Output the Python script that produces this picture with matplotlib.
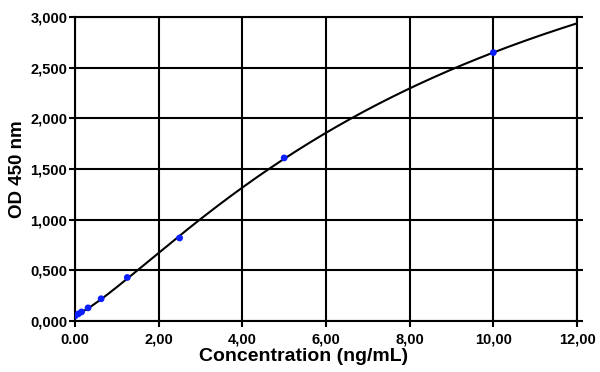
import matplotlib
matplotlib.use("Agg")
import matplotlib.pyplot as plt
import numpy as np

# standard points
conc = [0.0, 0.078, 0.156, 0.3125, 0.625, 1.25, 2.5, 5.0, 10.0]
od = [0.05, 0.07, 0.09, 0.13, 0.22, 0.43, 0.82, 1.61, 2.65]

x_ticks = [0, 2, 4, 6, 8, 10, 12]
x_tick_labels = ["0.00", "2,00", "4,00", "6,00", "8,00", "10,00", "12,00"]
y_ticks = [0.0, 0.5, 1.0, 1.5, 2.0, 2.5, 3.0]
y_tick_labels = ["0,000", "0,500", "1,000", "1,500", "2,000", "2,500", "3,000"]

plt.rcParams["font.family"] = ["Liberation Sans", "DejaVu Sans"]


def fit_4pl(x, y):
    # grid over slope b and midpoint c, linear solve for the asymptotes
    x = np.asarray(x, dtype=float)
    y = np.asarray(y, dtype=float)
    best = None
    for b in np.linspace(0.6, 3.0, 121):
        for c in np.geomspace(1.0, 200.0, 200):
            g = 1.0 / (1.0 + (x / c) ** b)
            design = np.column_stack([g, 1.0 - g])
            sol, *_ = np.linalg.lstsq(design, y, rcond=None)
            err = np.sum((design @ sol - y) ** 2)
            if best is None or err < best[0]:
                best = (err, sol[0], b, c, sol[1])
    _, a, b, c, d = best
    return lambda t: d + (a - d) / (1.0 + (np.asarray(t) / c) ** b)


def main() -> None:
    fig = plt.figure(figsize=(6.0, 3.72), dpi=100)
    ax = fig.add_axes([0.125, 0.137, 0.8367, 0.817])

    curve = fit_4pl(conc, od)
    xs = np.linspace(0, 12, 300)
    ax.plot(xs, curve(xs), color="black", lw=1.5, zorder=3)
    ax.scatter(conc, od, s=24, color="#0a1eff", zorder=4, edgecolors="none")

    ax.set_xlim(0, 12)
    ax.set_ylim(0, 3)
    ax.set_xticks(x_ticks)
    ax.set_xticklabels(x_tick_labels, fontsize=10.5, fontweight="bold")
    ax.set_yticks(y_ticks)
    ax.set_yticklabels(y_tick_labels, fontsize=10.5, fontweight="bold")
    ax.tick_params(direction="out", length=4.5, width=1.5, color="black", right=True)
    ax.tick_params(axis="x", pad=4)
    ax.tick_params(axis="y", pad=1)
    ax.grid(True, color="black", lw=1.5)
    for side in ["left", "bottom", "right", "top"]:
        ax.spines[side].set_linewidth(1.5)

    ax.set_xlabel("Concentration (ng/mL)", fontsize=14, fontweight="bold")
    ax.xaxis.set_label_coords(0.456, -0.088)
    ax.set_ylabel("OD 450 nm", fontsize=13.5, fontweight="bold", labelpad=3)

    fig.savefig("out.png", dpi=100)
    plt.close(fig)


if __name__ == "__main__":
    main()
